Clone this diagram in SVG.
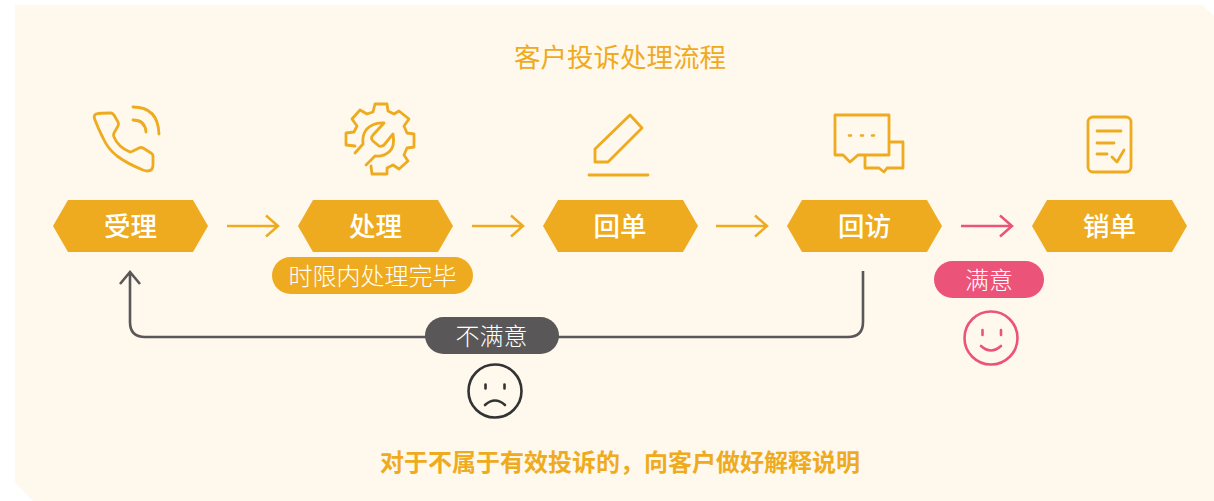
<svg xmlns="http://www.w3.org/2000/svg" width="1214" height="501" viewBox="0 0 1214 501">
<style>
text{font-family:"Noto Sans CJK SC","Noto Sans",sans-serif;text-anchor:middle}
.hex{fill:#eeab20}
.hl{fill:#fff;font-size:26.500px;font-weight:500}
.pl{fill:#fff;font-size:24px;font-weight:300}
.ic{fill:none;stroke:#eeab20;stroke-width:2.800;stroke-linecap:round;stroke-linejoin:round}
.ar{fill:none;stroke:#eeab20;stroke-width:2.500}
.arp{fill:none;stroke:#eb5478;stroke-width:2.500}
.bk{fill:none;stroke:#595757;stroke-width:2.600}
</style>
<rect width="1214" height="501" fill="#fff"/>
<polygon id="background" points="15,5 1203,5 1214,16 1214,501 33,501 15,482" fill="#fff8ec"/>
<text x="620" y="67" font-size="26.500" fill="#f0aa20" font-weight="400">客户投诉处理流程</text>
<g id="connectors">
<path class="ar" d="M227 226H278M266 215.500L278 226L266 236.500"/>
<path class="ar" d="M472 226H523M511 215.500L523 226L511 236.500"/>
<path class="ar" d="M716 226H767M755 215.500L767 226L755 236.500"/>
<path class="arp" d="M961 226H1012M1000 215.500L1012 226L1000 236.500"/>
<path class="bk" d="M863 271V322Q863 337 848 337H145Q130 337 130 322V272M120 284L130 272L140 284"/>
</g>
<g id="icon-phone"><path class="ic" d="M96 114Q100 113 111 113Q112 113 114 115L118 122Q119 124 118 126L114 133Q113 135 114 137Q118 147 130 152Q131 152 133 151L139 148Q141 147 143 148L151 153Q153 154 153 156V165Q153 171 147 171Q146 171 143 170Q128 164 117 156Q108 149 103 138Q98 128 95 120Q93 116 96 114Z"/><path class="ic" d="M133 107Q158 107 159 134M133 120Q145 120 146 132"/></g>
<g id="icon-gear"><path class="ic" d="M355 146L346 145V133L354 132L357 126L352 119L360 110L367 114L373 112L375 104H387L388 111L394 114L399 111L409 119L404 126L407 133L414 134L414 147L407 148L404 155L408 161L399 169L393 165L387 168L387 174H372L371 166"/><path class="ic" d="M355 153L363 144Q362 136 366 130Q373 122 384 123L373 135Q370 138 373 141L379 146Q381 147 384 145L393 134Q395 146 390 151Q384 157 375 156L366 165"/></g>
<g id="icon-pen"><path class="ic" d="M595 162V149L630 115L642 128L608 162ZM589 175H648"/></g>
<g id="icon-chat"><path class="ic" d="M835 115H889V155H858L850 162L843 155H835Z"/><path class="ic" d="M890 142H903V168H887L884 172L879 168H865V156"/><path d="M849 135.500h2M861 135.500h2M872 135.500h2" fill="none" stroke="#eeab20" stroke-width="2.600" stroke-linecap="round"/></g>
<g id="icon-doc"><rect class="ic" x="1088" y="117" width="43" height="55" rx="5"/><path class="ic" d="M1097 131H1121M1097 143H1114M1097 154H1107M1112 157L1117 162L1124 150"/></g>
<g id="node-1"><polygon class="hex" points="53,226 68,200 193,200 208,226 193,252 68,252"/><text class="hl" x="130.500" y="236">受理</text></g>
<g id="node-2"><polygon class="hex" points="298,226 313,200 438,200 453,226 438,252 313,252"/><text class="hl" x="375.500" y="236">处理</text></g>
<g id="node-3"><polygon class="hex" points="543,226 558,200 683,200 698,226 683,252 558,252"/><text class="hl" x="620" y="236">回单</text></g>
<g id="node-4"><polygon class="hex" points="787,226 802,200 927,200 942,226 927,252 802,252"/><text class="hl" x="864.500" y="236">回访</text></g>
<g id="node-5"><polygon class="hex" points="1032,226 1047,200 1172,200 1187,226 1172,252 1047,252"/><text class="hl" x="1109.500" y="236">销单</text></g>
<g id="pill-time"><rect x="272" y="257" width="201" height="37" rx="18.500" fill="#eeab20"/><text class="pl" x="372.500" y="285">时限内处理完毕</text></g>
<g id="pill-no"><rect x="425" y="317" width="134" height="37" rx="18.500" fill="#595757"/><text class="pl" x="491.500" y="345">不满意</text></g>
<g id="pill-yes"><rect x="934" y="261" width="110" height="37" rx="18.500" fill="#eb5478"/><text class="pl" x="989" y="289">满意</text></g>
<g id="face-sad" fill="none" stroke="#333" stroke-width="2.600" stroke-linecap="round"><circle cx="495" cy="391" r="26.500"/><path d="M485.500 384.500v4M504.500 384.500v4M485 405Q495 396 505 405"/></g>
<g id="face-happy" fill="none" stroke="#eb5478" stroke-width="2.600" stroke-linecap="round"><circle cx="991" cy="338" r="26.500"/><path d="M982.500 330v5M1001 330v5M981 346Q991 355 1001 346"/></g>
<text x="620" y="471" font-size="24" font-weight="700" fill="#eeab20">对于不属于有效投诉的，向客户做好解释说明</text>
</svg>
